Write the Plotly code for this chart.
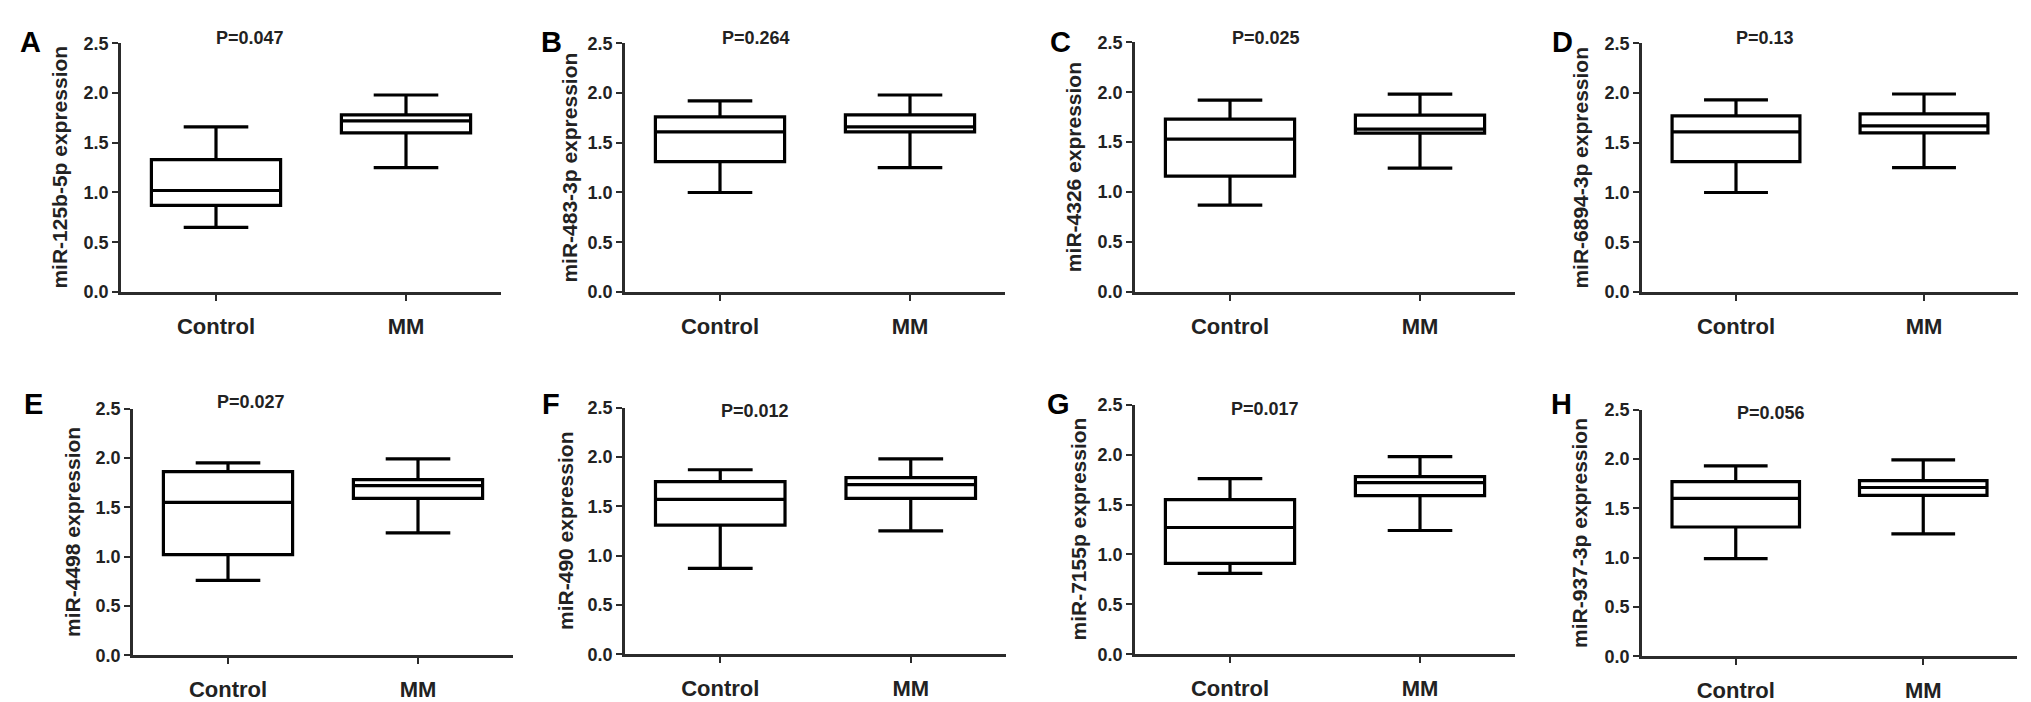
import plotly.graph_objects as go

# Panel data
panels = ["A", "B", "C", "D", "E", "F", "G", "H"]
ylabels = ["miR-125b-5p expression", "miR-483-3p expression", "miR-4326 expression",
           "miR-6894-3p expression", "miR-4498 expression", "miR-490 expression",
           "miR-7155p expression", "miR-937-3p expression"]
pvalues = ["P=0.047", "P=0.264", "P=0.025", "P=0.13",
           "P=0.027", "P=0.012", "P=0.017", "P=0.056"]
groups = ["Control", "MM"]

# box statistics: min, q1, median, q3, max
control_min = [0.65, 1.00, 0.87, 1.00, 0.76, 0.87, 0.81, 0.99]
control_q1 = [0.87, 1.31, 1.16, 1.31, 1.02, 1.31, 0.91, 1.31]
control_med = [1.02, 1.61, 1.53, 1.61, 1.55, 1.57, 1.27, 1.60]
control_q3 = [1.33, 1.76, 1.73, 1.77, 1.86, 1.75, 1.55, 1.77]
control_max = [1.66, 1.92, 1.92, 1.93, 1.95, 1.87, 1.76, 1.93]

mm_min = [1.25, 1.25, 1.24, 1.25, 1.24, 1.25, 1.24, 1.24]
mm_q1 = [1.60, 1.61, 1.59, 1.60, 1.59, 1.58, 1.59, 1.63]
mm_med = [1.72, 1.66, 1.63, 1.67, 1.72, 1.72, 1.72, 1.71]
mm_q3 = [1.78, 1.78, 1.77, 1.79, 1.78, 1.79, 1.78, 1.78]
mm_max = [1.98, 1.98, 1.98, 1.99, 1.99, 1.98, 1.98, 1.99]

W, H = 2031, 702
FONT = "Liberation Sans"
AXC = "#2b2b2b"

# pixel layout of each panel: (x0, x1, ybottom, ytop)
boxes_px = [(113, 493, 282, 26), (617, 997, 282, 26), (1127, 1507, 282, 25), (1634, 2010, 282, 26),
            (125, 505, 656, 402), (617, 998, 655, 401), (1127, 1507, 655, 398), (1634, 2009, 657, 403)]
ytitle_x = [52, 562, 1065, 1573, 65, 558, 1070, 1572]
letter_pos = [(22, 25), (543, 25), (1052, 25), (1554, 25),
              (25, 397), (543, 397), (1050, 397), (1553, 397)]
p_pos = [(242, 21), (748, 21), (1258, 21), (1757, 21),
         (243, 395), (747, 405), (1257, 402), (1763, 407)]

fig = go.Figure()
annotations = []

for i, p in enumerate(panels):
    n = "" if i == 0 else str(i + 1)
    xa, ya = "x" + n, "y" + n
    stats = [
        (groups[0], control_min[i], control_q1[i], control_med[i], control_q3[i], control_max[i]),
        (groups[1], mm_min[i], mm_q1[i], mm_med[i], mm_q3[i], mm_max[i]),
    ]
    for g, lo, q1, med, q3, hi in stats:
        fig.add_trace(go.Box(
            x=[g], lowerfence=[lo], q1=[q1], median=[med], q3=[q3], upperfence=[hi],
            width=0.68, whiskerwidth=0.5, boxpoints=False,
            line=dict(color="black", width=3.2), fillcolor="rgba(255,255,255,0)",
            showlegend=False, xaxis=xa, yaxis=ya, hoverinfo="skip"))

    x0, x1, yb, yt = boxes_px[i]
    fig.layout["xaxis" + n] = dict(
        domain=[x0 / W, x1 / W], anchor=ya, range=[-0.5, 1.5],
        type="category", categoryorder="array", categoryarray=groups,
        showline=True, linecolor=AXC, linewidth=2.5, showgrid=False, zeroline=False,
        ticks="outside", ticklen=6, tickwidth=2, tickcolor=AXC, ticklabelstandoff=7,
        tickfont=dict(family=FONT, size=22, color="#222", weight="bold"))
    fig.layout["yaxis" + n] = dict(
        domain=[1 - yb / H, 1 - yt / H], anchor=xa, range=[0, 2.5],
        tickvals=[0, 0.5, 1.0, 1.5, 2.0, 2.5], tickformat=".1f",
        showline=True, linecolor=AXC, linewidth=2.5, showgrid=False, zeroline=False,
        ticks="outside", ticklen=6, tickwidth=2, tickcolor=AXC,
        tickfont=dict(family=FONT, size=18, color="#222", weight="bold"))

    px_, py_ = p_pos[i]
    annotations.append(dict(
        text=pvalues[i], xref="paper", yref="paper", x=px_ / W, y=1 - py_ / H,
        xanchor="center", yanchor="middle", showarrow=False,
        font=dict(family=FONT, size=18, color="#222", weight="bold")))
    annotations.append(dict(
        text=ylabels[i], xref="paper", yref="paper", x=ytitle_x[i] / W,
        y=1 - (yb + yt) / 2 / H, textangle=-90, xanchor="center", yanchor="middle",
        showarrow=False, font=dict(family=FONT, size=21, color="#222", weight="bold")))
    lx, ly = letter_pos[i]
    annotations.append(dict(
        text=p, xref="paper", yref="paper", x=lx / W, y=1 - ly / H,
        xanchor="center", yanchor="middle", showarrow=False,
        font=dict(family=FONT, size=29, color="black", weight="bold")))

fig.update_layout(
    width=W, height=H, margin=dict(l=0, r=0, t=0, b=0),
    paper_bgcolor="white", plot_bgcolor="white",
    annotations=annotations)

fig.write_html("out.html")
